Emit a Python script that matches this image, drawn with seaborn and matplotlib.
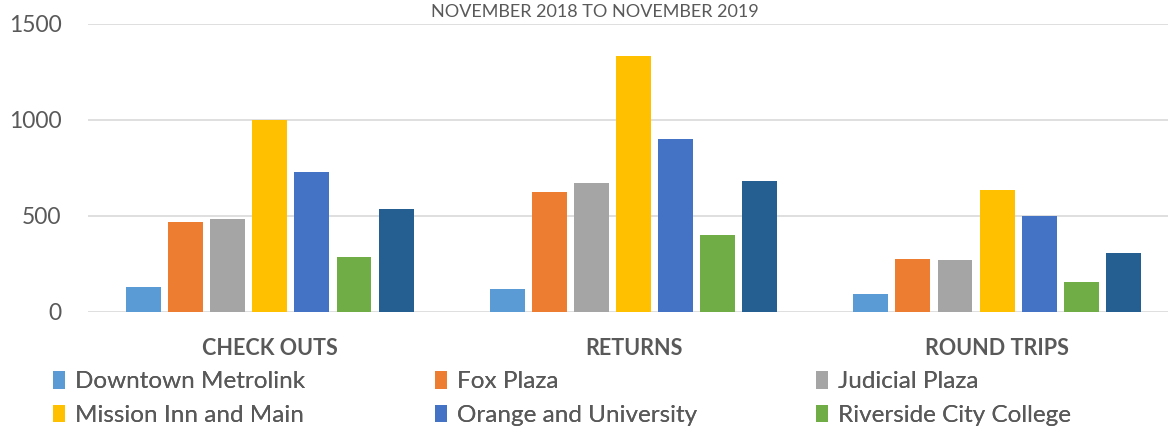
import numpy as np
import pandas as pd
import seaborn as sns
import matplotlib.pyplot as plt
from matplotlib.patches import Patch

categories = ["CHECK OUTS", "RETURNS", "ROUND TRIPS"]
stations = ["Downtown Metrolink", "Fox Plaza", "Judicial Plaza", "Mission Inn and Main",
            "Orange and University", "Riverside City College", "Other"]
downtown_metrolink = [129, 120, 94]
fox_plaza = [467, 623, 276]
judicial_plaza = [483, 672, 269]
mission_inn = [1000, 1335, 637]
orange_university = [730, 899, 502]
riverside_college = [287, 401, 156]
other = [535, 682, 306]
colors = ["#5B9BD5", "#ED7D31", "#A5A5A5", "#FFC000", "#4472C4", "#70AD47", "#255E91"]

series = [downtown_metrolink, fox_plaza, judicial_plaza, mission_inn,
          orange_university, riverside_college, other]
rows = []
for name, vals in zip(stations, series):
    for cat, v in zip(categories, vals):
        rows.append({"category": cat, "station": name, "value": v})
df = pd.DataFrame(rows)

sns.set_theme(style="white")
plt.rcParams['font.family'] = ['Lato', 'DejaVu Sans']
text_color = "#595959"

fig = plt.figure(figsize=(11.68, 4.29), dpi=100)
ax = fig.add_axes([88 / 1168, 1 - 312 / 429, 1 - 88 / 1168, (312 - 24) / 429])

sns.barplot(data=df, x="category", y="value", hue="station", hue_order=stations,
            palette=colors, saturation=1, order=categories, width=0.81, gap=0.17,
            linewidth=0, legend=False, ax=ax)

ax.set_ylim(0, 1500)
ax.set_xlim(-0.5, 2.47)
ax.set_yticks([0, 500, 1000, 1500])
ax.yaxis.grid(True, color="#D9D9D9", linewidth=1.2)
ax.set_axisbelow(True)
for s in ax.spines.values():
    s.set_visible(False)
ax.tick_params(axis="y", length=0, labelsize=16.5, labelcolor=text_color, pad=19)
ax.tick_params(axis="x", length=0, labelsize=15.5, labelcolor=text_color, pad=19)
for lbl in ax.get_xticklabels():
    lbl.set_fontweight("bold")
ax.set_xlabel("")
ax.set_ylabel("")

fig.text(595 / 1168, 1 - 12 / 429, "NOVEMBER 2018 TO NOVEMBER 2019",
         ha="center", va="center", fontsize=13, color=text_color)

# legend: three columns placed by hand, six entries shown
col_x = [53, 435, 816]
for c in range(3):
    idx = [c, c + 3]
    handles = [Patch(facecolor=colors[i], edgecolor="none") for i in idx]
    leg = fig.legend(handles, [stations[i] for i in idx], loc="upper left",
                     bbox_to_anchor=(col_x[c] / 1168, 1 - 371 / 429),
                     frameon=False, fontsize=17.5, labelcolor=text_color,
                     handlelength=0.5, handleheight=0.75, handletextpad=0.4,
                     labelspacing=0.5, borderaxespad=0, borderpad=0)
    fig.add_artist(leg)

fig.savefig("out.png", dpi=100)
